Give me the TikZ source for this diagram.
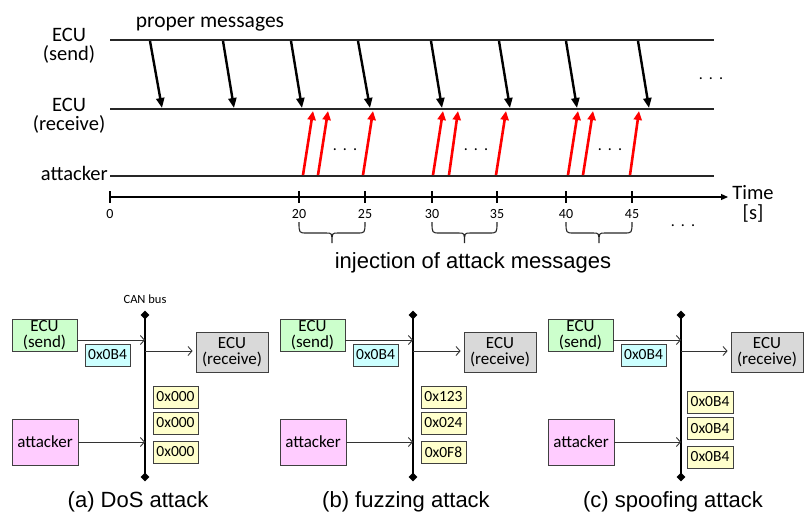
\documentclass[tikz,border=0pt]{standalone}
\usepackage{fontspec}
\setmainfont{Carlito}
\newfontfamily\arialf{Liberation Sans}
\usetikzlibrary{arrows.meta,calc,shapes.geometric}
\definecolor{sendc}{RGB}{204,255,204}
\definecolor{recvc}{RGB}{217,217,217}
\definecolor{atkc}{RGB}{255,204,255}
\definecolor{idc}{RGB}{204,255,255}
\definecolor{yelc}{RGB}{255,255,204}
\begin{document}
\begin{tikzpicture}[x=1pt,y=-1pt,
  lane/.style={line width=1.8pt, draw=black!85},
  msg/.style={line width=2.4pt, -{Triangle[length=10pt,width=8pt]}},
  atk/.style={line width=2.6pt, draw=red, fill=red, -{Triangle[length=9pt,width=8pt]}},
  lbl/.style={font=\fontsize{20.5}{19}\selectfont, align=center, inner sep=0pt},
  ticklbl/.style={font=\fontsize{14}{14}\selectfont, inner sep=0pt},
  dotsn/.style={font=\fontsize{16}{16}\selectfont, inner sep=0pt, anchor=base},
  box/.style={draw=black!75, line width=0.8pt, inner sep=0pt, align=center, font=\fontsize{17}{16}\selectfont},
  hex/.style={draw=black!75, line width=0.8pt, inner sep=0pt, minimum width=45pt, minimum height=22pt, font=\fontsize{15.5}{15.5}\selectfont},
  link/.style={line width=0.9pt, draw=black!80, -{Straight Barb[length=4pt,width=9pt]}},
  bus/.style={line width=2pt},
  endpt/.style={diamond, fill=black, inner sep=0pt, minimum size=9pt},
  captxt/.style={font=\arialf\fontsize{22}{22}\selectfont, inner sep=0pt, anchor=base},
  brc/.style={line width=1.1pt, draw=black!85},
]
\useasboundingbox (0,0) rectangle (805,512);

% ---------- timeline ----------
\node[font=\fontsize{21.5}{21.5}\selectfont, inner sep=0pt, anchor=base] (proper) at (210,27) {proper messages};
\node[lbl] (lsend) at (69,46) {ECU\\(send)};
\node[lbl] (lrecv) at (69,116) {ECU\\(receive)};
\node[lbl, anchor=base east] (latk) at (108,180) {attacker};

\coordinate (s0) at (110,40);  \coordinate (s1) at (714,40);
\coordinate (r0) at (110,109); \coordinate (r1) at (714,109);
\coordinate (k0) at (110,176); \coordinate (k1) at (714,176);
\draw[lane] (s0) -- (s1);
\draw[lane] (r0) -- (r1);
\draw[lane] (k0) -- (k1);

\foreach \a/\b [count=\i] in {150/162,223/234,291/302,358/370,431/442,499/510,566/577,638/649}{
  \coordinate (ms\i) at (\a,41);
  \coordinate (me\i) at (\b,108);
  \draw[msg] (ms\i) -- (me\i);
}
\foreach \a/\b [count=\i] in {303/313,318/328,363/373,433/443,449/458,496/506,568/578,583/593,630/639}{
  \coordinate (as\i) at (\a,175);
  \coordinate (ae\i) at (\b,111);
  \draw[atk] (as\i) -- (ae\i);
}
\node[dotsn] (d0) at (711,79) {.\hspace{6pt}.\hspace{6pt}.};
\node[dotsn] (d1) at (345,150) {.\hspace{6pt}.\hspace{6pt}.};
\node[dotsn] (d2) at (476,150) {.\hspace{6pt}.\hspace{6pt}.};
\node[dotsn] (d3) at (610,150) {.\hspace{6pt}.\hspace{6pt}.};
\node[dotsn] (d4) at (683,226) {.\hspace{6pt}.\hspace{6pt}.};

\coordinate (t0) at (110,197);
\coordinate (tend) at (728,197);
\draw[line width=1.2pt, -{Triangle[length=7pt,width=6pt]}] (t0) -- (tend);
\foreach \x/\l in {110/0,299/20,365/25,432/30,497/35,566/40,632/45}{
  \draw[line width=1.2pt] (\x,191) -- (\x,203);
  \node[ticklbl] (tk\l) at (\x,214) {\l};
}
\node[lbl] (time) at (753,193) {Time};
\node[lbl] (unit) at (753,213) {{[s]}};

\foreach \p/\q in {299/365,432/497,566/632}{
  \pgfmathsetmacro{\m}{(\p+\q)/2}
  \draw[brc] (\p,222) .. controls (\p,233) .. (\p+8,233) -- (\m-6,233)
     .. controls (\m,233) .. (\m,243) .. controls (\m,233) .. (\m+6,233)
     -- (\q-8,233) .. controls (\q,233) .. (\q,222);
}
\node[font=\arialf\fontsize{22}{22}\selectfont, inner sep=0pt, anchor=base] (inj) at (473,268) {injection of attack messages};

% ---------- panel (a) ----------
\node[font=\fontsize{12.5}{12.5}\selectfont, inner sep=0pt] (a-can) at (145,299) {CAN bus};
\node[endpt] (a-top) at (145,315) {};
\node[endpt] (a-bot) at (145,477) {};
\draw[bus] (a-top.center) -- (a-bot.center);
\node[box, fill=sendc, minimum width=65pt, minimum height=32pt] (a-send) at (44.5,335) {ECU\\(send)};
\node[box, fill=recvc, minimum width=72pt, minimum height=40pt] (a-recv) at (232,352) {ECU\\(receive)};
\node[box, fill=atkc, minimum width=66pt, minimum height=46pt] (a-atk) at (45,442) {attacker};
\node[hex, fill=idc] (a-id) at (107.5,355) {0x0B4};
\node[hex, fill=yelc] (a-y1) at (175.5,397) {0x000};
\node[hex, fill=yelc] (a-y2) at (175.5,423) {0x000};
\node[hex, fill=yelc] (a-y3) at (175.5,452) {0x000};
\coordinate (a-b1) at (145,340);
\coordinate (a-b2) at (145,351);
\coordinate (a-b3) at (145,442);
\draw[link] (a-send.east |- a-b1) -- (a-b1);
\draw[link, shorten >=3pt] (a-b2) -- (a-recv.west |- a-b2);
\draw[link] (a-atk.east |- a-b3) -- (a-b3);
\node[captxt] (a-cap) at (138,507) {(a) DoS attack};

% ---------- panel (b) ----------
\begin{scope}[xshift=268pt]
\node[endpt] (b-top) at (145,315) {};
\node[endpt] (b-bot) at (145,477) {};
\draw[bus] (b-top.center) -- (b-bot.center);
\node[box, fill=sendc, minimum width=65pt, minimum height=32pt] (b-send) at (44.5,335) {ECU\\(send)};
\node[box, fill=recvc, minimum width=72pt, minimum height=40pt] (b-recv) at (232,352) {ECU\\(receive)};
\node[box, fill=atkc, minimum width=66pt, minimum height=46pt] (b-atk) at (45,442) {attacker};
\node[hex, fill=idc] (b-id) at (107.5,355) {0x0B4};
\node[hex, fill=yelc] (b-y1) at (175.5,397) {0x123};
\node[hex, fill=yelc] (b-y2) at (175.5,423) {0x024};
\node[hex, fill=yelc] (b-y3) at (175.5,452) {0x0F8};
\coordinate (b-b1) at (145,340);
\coordinate (b-b2) at (145,351);
\coordinate (b-b3) at (145,442);
\draw[link] (b-send.east |- b-b1) -- (b-b1);
\draw[link, shorten >=3pt] (b-b2) -- (b-recv.west |- b-b2);
\draw[link] (b-atk.east |- b-b3) -- (b-b3);
\node[captxt] (b-cap) at (138,507) {(b) fuzzing attack};
\end{scope}

% ---------- panel (c) ----------
\begin{scope}[xshift=536pt]
\node[endpt] (c-top) at (145,315) {};
\node[endpt] (c-bot) at (145,477) {};
\draw[bus] (c-top.center) -- (c-bot.center);
\node[box, fill=sendc, minimum width=65pt, minimum height=32pt] (c-send) at (44.5,335) {ECU\\(send)};
\node[box, fill=recvc, minimum width=72pt, minimum height=40pt] (c-recv) at (231,352) {ECU\\(receive)};
\node[box, fill=atkc, minimum width=66pt, minimum height=46pt] (c-atk) at (45,442) {attacker};
\node[hex, fill=idc] (c-id) at (107.5,355) {0x0B4};
\node[hex, fill=yelc, minimum width=46pt] (c-y1) at (174,402) {0x0B4};
\node[hex, fill=yelc, minimum width=46pt] (c-y2) at (174,428.5) {0x0B4};
\node[hex, fill=yelc, minimum width=46pt] (c-y3) at (174,457) {0x0B4};
\coordinate (c-b1) at (145,340);
\coordinate (c-b2) at (145,351);
\coordinate (c-b3) at (145,442);
\draw[link] (c-send.east |- c-b1) -- (c-b1);
\draw[link, shorten >=3pt] (c-b2) -- (c-recv.west |- c-b2);
\draw[link] (c-atk.east |- c-b3) -- (c-b3);
\node[captxt] (c-cap) at (137,507) {(c) spoofing attack};
\end{scope}
\end{tikzpicture}
\end{document}
